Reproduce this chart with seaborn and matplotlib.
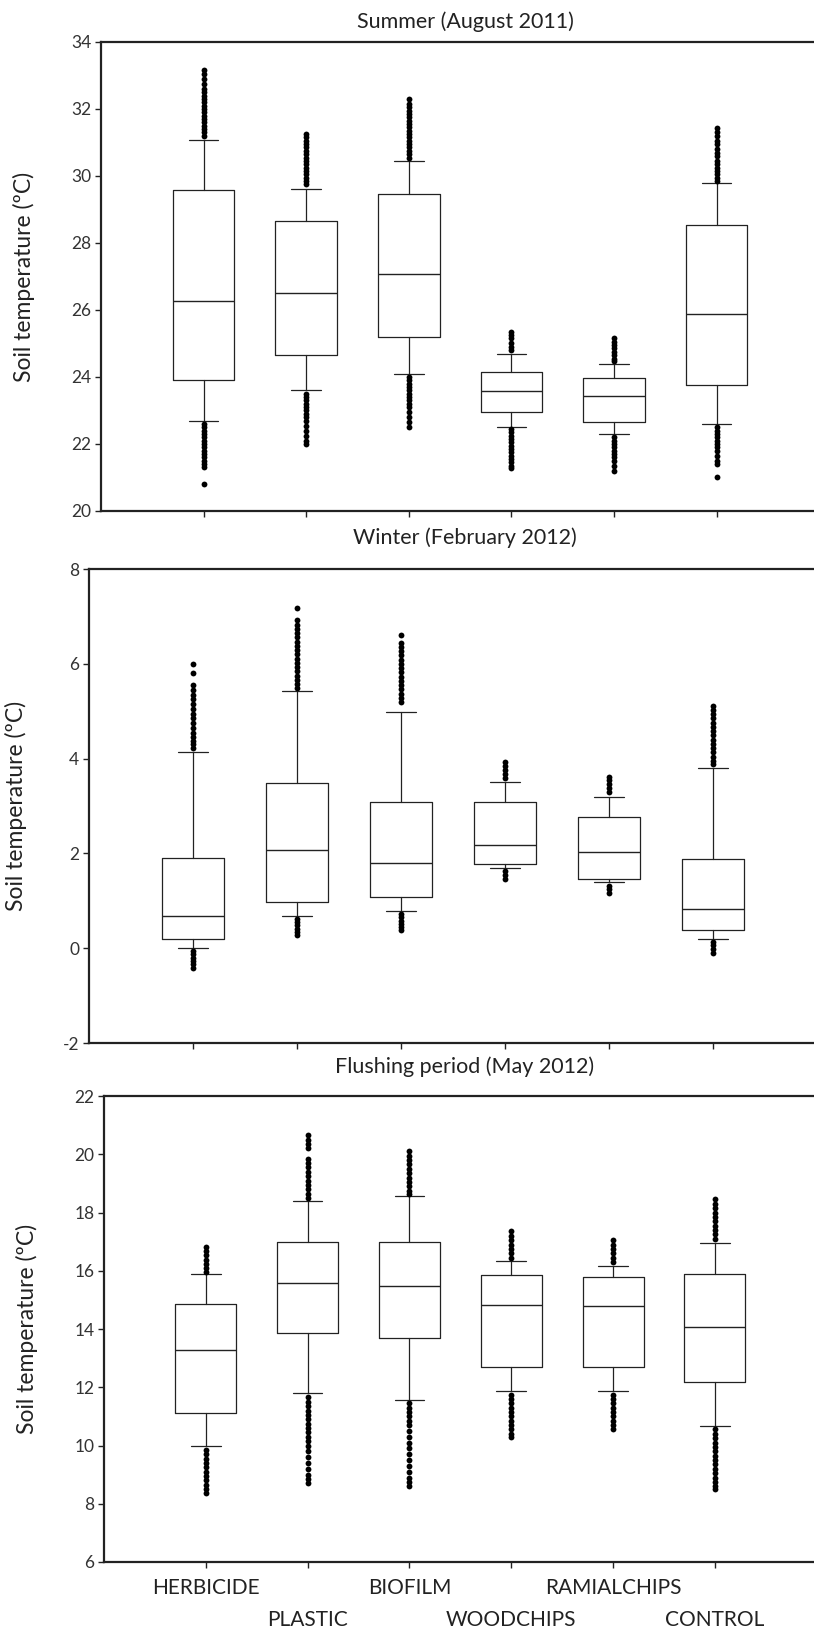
import matplotlib
matplotlib.use("Agg")
import matplotlib.pyplot as plt
import matplotlib.transforms as mtransforms
import seaborn as sns
import pandas as pd

# treatments, left to right
treatments = ["HERBICIDE", "PLASTIC", "BIOFILM", "WOODCHIPS", "RAMIALCHIPS", "CONTROL"]

# Summer (August 2011): whisker low, q1, median, q3, whisker high
summer_lo = [22.7, 23.6, 24.1, 22.5, 22.3, 22.6]
summer_q1 = [23.9, 24.65, 25.2, 22.96, 22.66, 23.77]
summer_med = [26.27, 26.52, 27.07, 23.57, 23.42, 25.88]
summer_q3 = [29.58, 28.66, 29.47, 24.16, 23.96, 28.53]
summer_hi = [31.07, 29.6, 30.45, 24.69, 24.4, 29.78]
summer_out = [
    [33.15, 33.05, 32.9, 32.75, 32.6, 32.5, 32.4, 32.3, 32.2, 32.1, 32.0, 31.9, 31.8, 31.7, 31.6,
     31.5, 31.4, 31.3, 31.2, 22.6, 22.5, 22.4, 22.3, 22.2, 22.1, 22.0, 21.9, 21.8, 21.7, 21.6,
     21.5, 21.4, 21.3, 20.8],
    [31.25, 31.15, 31.05, 30.95, 30.85, 30.75, 30.65, 30.55, 30.45, 30.35, 30.25, 30.15, 30.05,
     29.95, 29.85, 29.75, 23.5, 23.4, 23.3, 23.2, 23.1, 23.0, 22.9, 22.8, 22.7, 22.55, 22.4,
     22.25, 22.1, 22.0],
    [32.3, 32.15, 32.05, 31.95, 31.85, 31.75, 31.65, 31.55, 31.45, 31.35, 31.25, 31.15, 31.05,
     30.95, 30.85, 30.75, 30.65, 30.55, 24.0, 23.9, 23.8, 23.7, 23.6, 23.5, 23.4, 23.3, 23.2,
     23.1, 22.95, 22.8, 22.65, 22.5],
    [25.35, 25.25, 25.15, 25.0, 24.9, 24.8, 22.45, 22.35, 22.25, 22.15, 22.05, 21.95, 21.85,
     21.75, 21.65, 21.55, 21.45, 21.35, 21.28],
    [25.15, 25.05, 24.95, 24.85, 24.75, 24.65, 24.55, 24.47, 22.2, 22.1, 22.0, 21.9, 21.8, 21.7,
     21.6, 21.5, 21.35, 21.2],
    [31.42, 31.3, 31.2, 31.05, 30.95, 30.8, 30.7, 30.6, 30.45, 30.35, 30.25, 30.15, 30.05, 29.95,
     29.85, 22.5, 22.4, 22.3, 22.2, 22.1, 22.0, 21.9, 21.8, 21.65, 21.5, 21.4, 21.0],
]

# Winter (February 2012)
winter_lo = [0.01, 0.69, 0.79, 1.7, 1.39, 0.2]
winter_q1 = [0.2, 0.97, 1.08, 1.77, 1.47, 0.38]
winter_med = [0.68, 2.08, 1.79, 2.18, 2.03, 0.83]
winter_q3 = [1.9, 3.49, 3.08, 3.08, 2.77, 1.88]
winter_hi = [4.14, 5.43, 4.98, 3.5, 3.2, 3.8]
winter_out = [
    [6.0, 5.8, 5.55, 5.45, 5.35, 5.25, 5.15, 5.05, 4.95, 4.85, 4.75, 4.65, 4.55, 4.45, 4.38,
     4.3, 4.22, -0.06, -0.13, -0.2, -0.27, -0.34, -0.42],
    [7.18, 6.92, 6.83, 6.74, 6.65, 6.56, 6.47, 6.38, 6.29, 6.2, 6.11, 6.02, 5.93, 5.84, 5.75,
     5.66, 5.57, 5.5, 0.62, 0.55, 0.48, 0.41, 0.34, 0.28],
    [6.6, 6.45, 6.36, 6.27, 6.18, 6.09, 6.0, 5.91, 5.82, 5.73, 5.64, 5.55, 5.46, 5.37, 5.28,
     5.2, 0.72, 0.65, 0.58, 0.51, 0.44, 0.38],
    [3.92, 3.84, 3.76, 3.68, 3.6, 1.62, 1.55, 1.47],
    [3.62, 3.54, 3.46, 3.38, 3.3, 1.32, 1.25, 1.17],
    [5.12, 5.03, 4.94, 4.85, 4.76, 4.67, 4.58, 4.49, 4.4, 4.31, 4.22, 4.13, 4.04, 3.96, 3.88,
     0.13, 0.06, -0.02, -0.1],
]

# Flushing period (May 2012)
flush_lo = [9.97, 11.8, 11.57, 11.87, 11.87, 10.68]
flush_q1 = [11.1, 13.88, 13.69, 12.68, 12.68, 12.19]
flush_med = [13.28, 15.59, 15.48, 14.84, 14.78, 14.08]
flush_q3 = [14.86, 16.99, 16.99, 15.85, 15.78, 15.88]
flush_hi = [15.88, 18.38, 18.56, 16.35, 16.17, 16.97]
flush_out = [
    [16.83, 16.68, 16.53, 16.38, 16.23, 16.08, 15.96, 9.85, 9.7, 9.55, 9.4, 9.25, 9.1, 8.95,
     8.8, 8.65, 8.5, 8.38],
    [20.65, 20.5, 20.35, 20.2, 19.85, 19.7, 19.55, 19.4, 19.25, 19.1, 18.95, 18.8, 18.65, 18.5,
     11.65, 11.5, 11.35, 11.2, 11.05, 10.9, 10.75, 10.6, 10.45, 10.3, 10.15, 10.0, 9.8, 9.6,
     9.4, 9.2, 9.0, 8.85, 8.7],
    [20.1, 19.95, 19.8, 19.65, 19.5, 19.35, 19.2, 19.05, 18.9, 18.75, 18.65, 11.45, 11.3, 11.15,
     11.0, 10.85, 10.7, 10.5, 10.3, 10.1, 9.9, 9.7, 9.5, 9.3, 9.1, 8.9, 8.75, 8.6],
    [17.35, 17.2, 17.05, 16.9, 16.75, 16.6, 16.45, 11.75, 11.6, 11.45, 11.3, 11.15, 11.0, 10.85,
     10.7, 10.55, 10.4, 10.28],
    [17.05, 16.9, 16.75, 16.6, 16.45, 16.3, 11.75, 11.6, 11.45, 11.3, 11.15, 11.0, 10.85, 10.7,
     10.57],
    [18.45, 18.3, 18.15, 18.0, 17.85, 17.7, 17.55, 17.4, 17.25, 17.1, 10.55, 10.4, 10.25, 10.1,
     9.95, 9.8, 9.65, 9.5, 9.35, 9.2, 9.05, 8.9, 8.75, 8.6, 8.49],
]

sns.set_style("ticks")
plt.rcParams["font.family"] = ["Lato", "DejaVu Sans"]
plt.rcParams["axes.unicode_minus"] = False

ink = "#222222"
fig = plt.figure(figsize=(8.14, 16.32), dpi=100)


def draw_panel(rect, title, title_y, label_x, lo, q1, med, q3, hi, out, ylim, yticks, show_labels):
    ax = fig.add_axes(rect)
    stats = []
    for a, b, c, d, e in zip(lo, q1, med, q3, hi):
        stats.append(dict(whislo=a, q1=b, med=c, q3=d, whishi=e, fliers=[]))
    line = dict(color=ink, linewidth=0.9)
    ax.bxp(stats, positions=range(1, 7), widths=0.6, capwidths=0.29, showfliers=False,
           boxprops=line, whiskerprops=line, capprops=line,
           medianprops=dict(color=ink, linewidth=1.0))

    # fliers drawn by seaborn as a strip of points on the same numeric axis
    rows = []
    for i, vals in enumerate(out):
        for v in vals:
            rows.append((i + 1, v))
    df = pd.DataFrame(rows, columns=["pos", "temp"])
    sns.stripplot(data=df, x="pos", y="temp", native_scale=True, jitter=False,
                  color="black", size=4.2, linewidth=0, ax=ax)

    ax.set_xlim(0, 7.2)
    ax.set_ylim(*ylim)
    ax.set_yticks(yticks)
    ax.set_xticks(range(1, 7))
    ax.set_xticklabels([])
    ax.set_xlabel("")
    ax.set_ylabel("")
    if show_labels:
        # two staggered rows of category names under the ticks
        for i, name in enumerate(treatments):
            off = -26 if i % 2 == 0 else -58
            tr = ax.get_xaxis_transform() + mtransforms.ScaledTranslation(0, off / 100, fig.dpi_scale_trans)
            ax.text(i + 1, 0, name, transform=tr, ha="center", va="center",
                    fontsize=15, color=ink)
    ax.tick_params(axis="y", labelsize=12.5, labelcolor="#333333", length=4, width=1.0,
                   color=ink, pad=3)
    ax.tick_params(axis="x", length=4, width=1.0, color=ink)
    for s in ["left", "top", "bottom"]:
        ax.spines[s].set_linewidth(1.6)
        ax.spines[s].set_color(ink)
    ax.spines["right"].set_visible(False)

    fig.text(465 / 814, 1 - title_y / 1632, title, ha="center", va="center",
             fontsize=15.5, color=ink)
    mid = rect[1] + rect[3] / 2
    fig.text(label_x, mid, "Soil temperature (ºC)", rotation=90, ha="center",
             va="center", fontsize=16.5, color=ink)
    return ax


draw_panel([0.1241, 0.6869, 0.9075, 0.2874], "Summer (August 2011)", 22, 0.029,
           summer_lo, summer_q1, summer_med, summer_q3, summer_hi, summer_out,
           (20, 34), range(20, 35, 2), False)
draw_panel([0.1093, 0.3609, 0.92, 0.2904], "Winter (February 2012)", 538, 0.019,
           winter_lo, winter_q1, winter_med, winter_q3, winter_hi, winter_out,
           (-2, 8), range(-2, 9, 2), False)
draw_panel([0.1278, 0.0429, 0.9005, 0.2855], "Flushing period (May 2012)", 1067, 0.033,
           flush_lo, flush_q1, flush_med, flush_q3, flush_hi, flush_out,
           (6, 22), range(6, 23, 2), True)

fig.savefig("out.png", dpi=100, facecolor="white")
